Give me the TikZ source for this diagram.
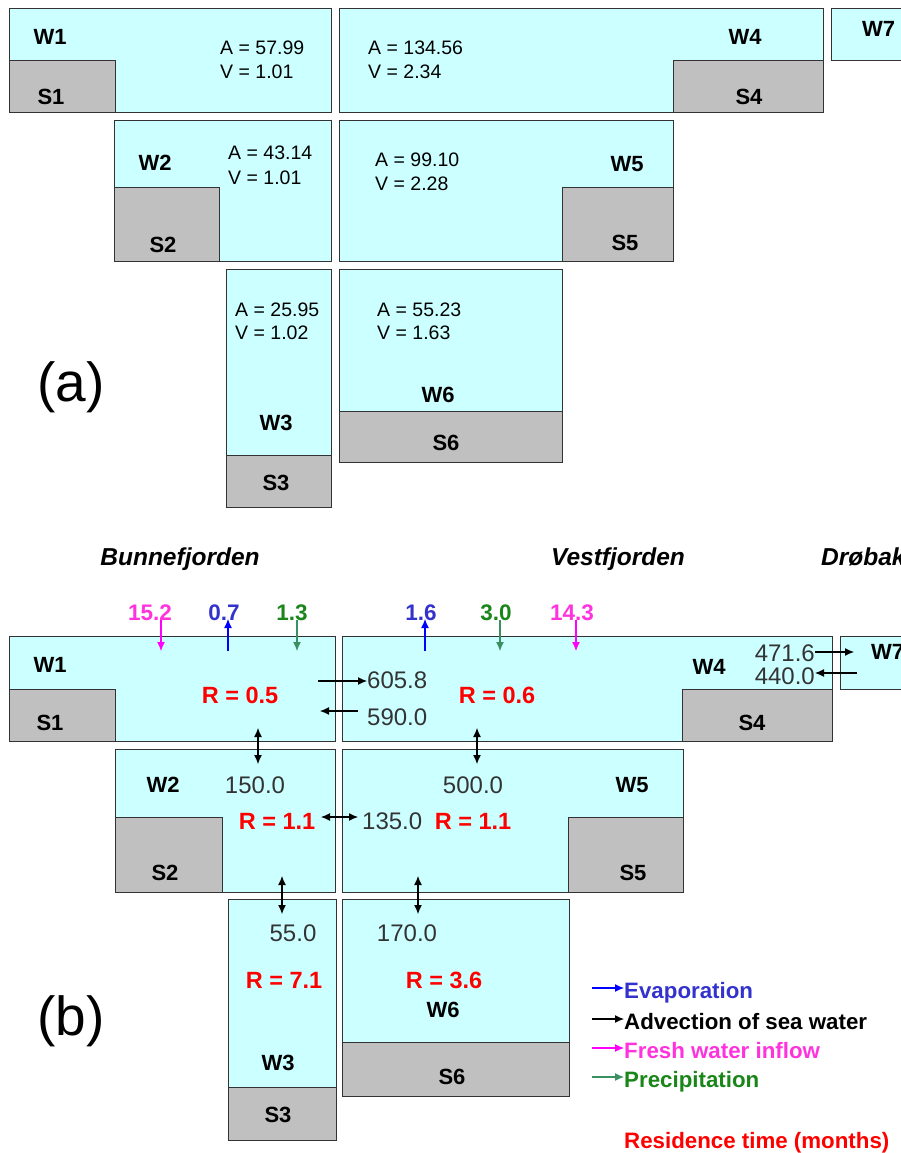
\documentclass[tikz,border=0pt]{standalone}
\usepackage{fontspec}
\setmainfont{Liberation Sans}
\usetikzlibrary{arrows.meta}
\newcommand{\myfs}[1]{\fontsize{#1}{#1}\selectfont}
\definecolor{water}{HTML}{CCFFFF}
\definecolor{sed}{HTML}{C0C0C0}
\definecolor{bord}{HTML}{333333}
\definecolor{numcol}{HTML}{333333}
\definecolor{magtxt}{HTML}{FF33DD}
\definecolor{magarr}{HTML}{FF00FF}
\definecolor{bluetxt}{HTML}{3333CC}
\definecolor{bluearr}{HTML}{0000FF}
\definecolor{greentxt}{HTML}{1A861A}
\definecolor{greenarr}{HTML}{3A9060}
\definecolor{redtxt}{HTML}{FF0000}
\tikzset{
  wbox/.style={draw=bord, fill=water, line width=1.2pt, inner sep=0pt, anchor=north west},
  sbox/.style={draw=bord, fill=sed, line width=1.2pt, inner sep=0pt, anchor=north west},
  lab/.style={font=\myfs{22}\bfseries, inner sep=0pt, text height=15.5pt, text depth=0pt},
  av/.style={font=\myfs{19.5}, inner sep=0pt, anchor=west, text height=14pt, text depth=0pt},
  big/.style={font=\myfs{55}, inner sep=0pt},
  fj/.style={font=\myfs{24.5}\bfseries\itshape, inner sep=0pt, text height=17.5pt, text depth=0pt},
  topnum/.style={font=\myfs{22.5}\bfseries, inner sep=0pt, text height=16pt, text depth=0pt},
  flow/.style={font=\myfs{24}, text=numcol, inner sep=0pt, text height=17pt, text depth=0pt},
  rlab/.style={font=\myfs{23.5}\bfseries, text=redtxt, inner sep=0pt, text height=17pt, text depth=0pt},
  leg/.style={font=\myfs{22.3}\bfseries, inner sep=0pt, anchor=west, text height=16pt, text depth=0pt},
  tip/.style={-{Latex[length=9pt,width=8pt]}},
  dtip/.style={{Latex[length=9pt,width=8pt]}-{Latex[length=9pt,width=8pt]}},
  fl/.style={line width=1.1pt},
}
\begin{document}
\begin{tikzpicture}[x=1pt,y=-1pt]
\useasboundingbox (0,0) rectangle (901,1153);
\clip (0,0) rectangle (901,1153);
% ---------------- panel (a) ----------------
\node[wbox, minimum width=322pt, minimum height=104pt] (aW1) at (9,8) {};
\node[sbox, minimum width=106pt, minimum height=52pt] (aS1) at (9,60) {};
\node[wbox, minimum width=484pt, minimum height=104pt] (aW4) at (339,8) {};
\node[sbox, minimum width=150pt, minimum height=52pt] (aS4) at (673,60) {};
\node[wbox, minimum width=100pt, minimum height=52pt] (aW7) at (831,8) {};
\node[wbox, minimum width=217pt, minimum height=141pt] (aW2) at (114,120) {};
\node[sbox, minimum width=105pt, minimum height=74pt] (aS2) at (114,187) {};
\node[wbox, minimum width=334pt, minimum height=141pt] (aW5) at (339,120) {};
\node[sbox, minimum width=111pt, minimum height=74pt] (aS5) at (562,187) {};
\node[wbox, minimum width=105pt, minimum height=238pt] (aW3) at (226,269) {};
\node[sbox, minimum width=105pt, minimum height=52pt] (aS3) at (226,455) {};
\node[wbox, minimum width=223pt, minimum height=193pt] (aW6) at (339,269) {};
\node[sbox, minimum width=223pt, minimum height=51pt] (aS6) at (339,411) {};

\node[lab] (aW1l) at (50,37) {W1};
\node[lab] (aS1l) at (51,97) {S1};
\node[av] (aA1) at (220,48) {A = 57.99};
\node[av] (aV1) at (220,72) {V = 1.01};
\node[lab] (aW4l) at (745,37) {W4};
\node[lab] (aS4l) at (749,97) {S4};
\node[av] (aA4) at (368,48) {A = 134.56};
\node[av] (aV4) at (368,72) {V = 2.34};
\node[lab, anchor=west] (aW7l) at (862,29) {W7};
\node[lab] (aW2l) at (155,163) {W2};
\node[lab] (aS2l) at (163,245) {S2};
\node[av] (aA2) at (228,152) {A = 43.14};
\node[av] (aV2) at (228,177) {V = 1.01};
\node[lab] (aW5l) at (627,164) {W5};
\node[lab] (aS5l) at (625,243) {S5};
\node[av] (aA5) at (375,159) {A = 99.10};
\node[av] (aV5) at (375,183) {V = 2.28};
\node[lab] (aW3l) at (276,423) {W3};
\node[lab] (aS3l) at (276,483) {S3};
\node[av] (aA3) at (235,309) {A = 25.95};
\node[av] (aV3) at (235,332) {V = 1.02};
\node[lab] (aW6l) at (438,395) {W6};
\node[lab] (aS6l) at (446,443) {S6};
\node[av] (aA6) at (377,309) {A = 55.23};
\node[av] (aV6) at (377,332) {V = 1.63};
\node[big] (pa) at (71,387) {(a)};

% ---------------- panel (b) ----------------
\node[wbox, minimum width=326pt, minimum height=105pt] (bW1) at (9,636) {};
\node[sbox, minimum width=106pt, minimum height=52pt] (bS1) at (9,689) {};
\node[wbox, minimum width=490pt, minimum height=105pt] (bW4) at (342,636) {};
\node[sbox, minimum width=150pt, minimum height=52pt] (bS4) at (682,689) {};
\node[wbox, minimum width=100pt, minimum height=53pt] (bW7) at (840,636) {};
\node[wbox, minimum width=220pt, minimum height=143pt] (bW2) at (115,749) {};
\node[sbox, minimum width=107pt, minimum height=75pt] (bS2) at (115,817) {};
\node[wbox, minimum width=341pt, minimum height=143pt] (bW5) at (342,749) {};
\node[sbox, minimum width=115pt, minimum height=75pt] (bS5) at (568,817) {};
\node[wbox, minimum width=108pt, minimum height=241pt] (bW3) at (228,899) {};
\node[sbox, minimum width=108pt, minimum height=53pt] (bS3) at (228,1087) {};
\node[wbox, minimum width=227pt, minimum height=197pt] (bW6) at (342,899) {};
\node[sbox, minimum width=227pt, minimum height=54pt] (bS6) at (342,1042) {};

\node[fj] (bunne) at (180,557) {Bunnefjorden};
\node[fj] (vest) at (618,557) {Vestfjorden};
\node[fj, anchor=west] (drob) at (821,557) {Drøbak};

\node[topnum, text=magtxt] (n152) at (150,612) {15.2};
\node[topnum, text=bluetxt] (n07) at (224,612) {0.7};
\node[topnum, text=greentxt] (n13) at (292,612) {1.3};
\node[topnum, text=bluetxt] (n16) at (421,612) {1.6};
\node[topnum, text=greentxt] (n30) at (496,612) {3.0};
\node[topnum, text=magtxt] (n143) at (572,612) {14.3};

\coordinate (a152t) at (161,620); \coordinate (a152b) at (161,651);
\coordinate (a07t) at (228,619);  \coordinate (a07b) at (228,651);
\coordinate (a13t) at (297,620);  \coordinate (a13b) at (297,651);
\coordinate (a16t) at (425,619);  \coordinate (a16b) at (425,651);
\coordinate (a30t) at (500,620);  \coordinate (a30b) at (500,651);
\coordinate (a143t) at (576,620); \coordinate (a143b) at (576,651);
\draw[tip, fl, magarr] (a152t) -- (a152b);
\draw[tip, fl, bluearr] (a07b) -- (a07t);
\draw[tip, fl, greenarr] (a13t) -- (a13b);
\draw[tip, fl, bluearr] (a16b) -- (a16t);
\draw[tip, fl, greenarr] (a30t) -- (a30b);
\draw[tip, fl, magarr] (a143t) -- (a143b);

\node[lab] (bW1l) at (50,665) {W1};
\node[lab] (bS1l) at (50,723) {S1};
\node[rlab] (r1) at (240,695) {R = 0.5};
\node[flow, anchor=west] (f6058) at (367,680) {605.8};
\node[flow, anchor=west] (f5900) at (367,717) {590.0};
\coordinate (c6058s) at (318,681);
\coordinate (c5900e) at (320,711);
\coordinate (c5900s) at (358,711);
\draw[tip, fl] (c6058s) -- (f6058.west |- c6058s);
\draw[tip, fl] (c5900s) -- (c5900e);

\node[lab] (bW4l) at (709,667) {W4};
\node[lab] (bS4l) at (752,723) {S4};
\node[rlab] (r4) at (497,695) {R = 0.6};
\node[flow, anchor=east] (f4716) at (815,653) {471.6};
\node[flow, anchor=east] (f4400) at (815,676) {440.0};
\node[lab, anchor=west] (bW7l) at (871,652) {W7};
\coordinate (c4716e) at (854,652);
\coordinate (c4400s) at (857,673);
\draw[tip, fl] (f4716.east |- c4716e) -- (c4716e);
\draw[tip, fl] (c4400s) -- (f4400.east |- c4400s);

\coordinate (v12t) at (258,728); \coordinate (v12b) at (258,764);
\coordinate (v45t) at (477,728); \coordinate (v45b) at (477,764);
\draw[dtip, fl] (v12t) -- (v12b);
\draw[dtip, fl] (v45t) -- (v45b);

\node[lab] (bW2l) at (163,785) {W2};
\node[lab] (bS2l) at (165,873) {S2};
\node[flow] (f1500) at (255,785) {150.0};
\node[rlab] (r2) at (277,821) {R = 1.1};
\node[flow, anchor=west] (f1350) at (362,821) {135.0};
\node[rlab] (r5) at (473,821) {R = 1.1};
\node[flow] (f5000) at (473,785) {500.0};
\node[lab] (bW5l) at (632,785) {W5};
\node[lab] (bS5l) at (633,873) {S5};
\coordinate (h25l) at (321,817); \coordinate (h25r) at (358,817);
\draw[dtip, fl] (h25l) -- (h25r);

\coordinate (v23t) at (282,876); \coordinate (v23b) at (282,914);
\coordinate (v56t) at (418,876); \coordinate (v56b) at (418,914);
\draw[dtip, fl] (v23t) -- (v23b);
\draw[dtip, fl] (v56t) -- (v56b);

\node[flow] (f550) at (293,933) {55.0};
\node[rlab] (r3) at (284,980) {R = 7.1};
\node[lab] (bW3l) at (278,1063) {W3};
\node[lab] (bS3l) at (278,1115) {S3};
\node[flow] (f1700) at (407,933) {170.0};
\node[rlab] (r6) at (444,980) {R = 3.6};
\node[lab] (bW6l) at (443,1010) {W6};
\node[lab] (bS6l) at (452,1077) {S6};
\node[big] (pb) at (71,1021) {(b)};

% legend
\node[leg, text=bluetxt] (lg1) at (624,990) {Evaporation};
\node[leg, text=black] (lg2) at (624,1021) {Advection of sea water};
\node[leg, text=magtxt] (lg3) at (624,1050) {Fresh water inflow};
\node[leg, text=greentxt] (lg4) at (624,1079) {Precipitation};
\node[leg, text=redtxt] (lg5) at (624,1140) {Residence time (months)};
\coordinate (lga1) at (592,988);
\coordinate (lga2) at (592,1019);
\coordinate (lga3) at (592,1048);
\coordinate (lga4) at (592,1077);
\draw[tip, fl, bluearr] (lga1) -- (lg1.west |- lga1);
\draw[tip, fl, black] (lga2) -- (lg2.west |- lga2);
\draw[tip, fl, magarr] (lga3) -- (lg3.west |- lga3);
\draw[tip, fl, greenarr] (lga4) -- (lg4.west |- lga4);
\end{tikzpicture}
\end{document}
